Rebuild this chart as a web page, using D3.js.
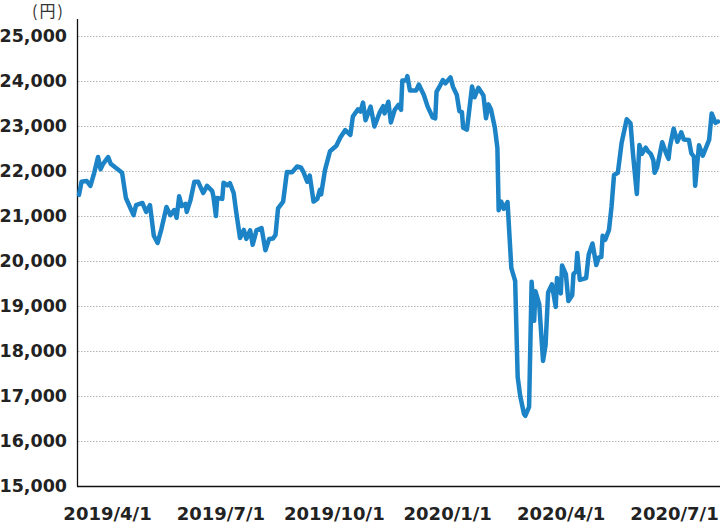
<!DOCTYPE html>
<html><head><meta charset="utf-8">
<script src="https://cdn.jsdelivr.net/npm/d3@7/dist/d3.min.js"></script>
<style>
html,body{margin:0;padding:0;background:#fff;}
svg{display:block;}
</style>
</head><body>
<svg id="chart" width="720" height="524"></svg>
<script>
const dates = ["2019-04-01","2019-04-03","2019-04-07","2019-04-10","2019-04-13","2019-04-16","2019-04-18","2019-04-20","2019-04-24","2019-04-26","2019-04-30",
"2019-05-05","2019-05-08","2019-05-14","2019-05-16","2019-05-21","2019-05-24","2019-05-27","2019-05-30",
"2019-06-02","2019-06-05","2019-06-09","2019-06-12","2019-06-15","2019-06-17","2019-06-19","2019-06-21","2019-06-24","2019-06-25","2019-06-28",
"2019-07-01","2019-07-04","2019-07-08","2019-07-11","2019-07-15","2019-07-16","2019-07-18","2019-07-19","2019-07-23","2019-07-24","2019-07-27","2019-07-29",
"2019-08-01","2019-08-03","2019-08-06","2019-08-09","2019-08-11","2019-08-14","2019-08-16","2019-08-19","2019-08-23","2019-08-26","2019-08-29",
"2019-09-01","2019-09-03","2019-09-05","2019-09-09","2019-09-12","2019-09-16","2019-09-20","2019-09-23","2019-09-25","2019-09-28","2019-09-30",
"2019-10-03","2019-10-06","2019-10-08","2019-10-09","2019-10-12","2019-10-16","2019-10-21","2019-10-24","2019-10-28",
"2019-11-01","2019-11-03","2019-11-07","2019-11-09","2019-11-11","2019-11-13","2019-11-17","2019-11-20","2019-11-24","2019-11-27","2019-11-28",
"2019-12-01","2019-12-03","2019-12-06","2019-12-09","2019-12-11","2019-12-12","2019-12-15","2019-12-16","2019-12-18","2019-12-23","2019-12-25","2019-12-29",
"2020-01-01","2020-01-05","2020-01-07","2020-01-08","2020-01-11","2020-01-13","2020-01-15","2020-01-19","2020-01-21","2020-01-24","2020-01-26","2020-01-28","2020-01-29",
"2020-02-01","2020-02-05","2020-02-07","2020-02-10","2020-02-14","2020-02-16","2020-02-18","2020-02-20","2020-02-23","2020-02-25","2020-02-26","2020-02-28",
"2020-03-01","2020-03-04","2020-03-07","2020-03-10","2020-03-12","2020-03-14","2020-03-17","2020-03-18","2020-03-21","2020-03-23","2020-03-25","2020-03-26","2020-03-29",
"2020-04-01","2020-04-03","2020-04-05","2020-04-08","2020-04-11","2020-04-12","2020-04-15","2020-04-16","2020-04-19","2020-04-21","2020-04-24","2020-04-25","2020-04-27","2020-04-28","2020-04-30",
"2020-05-05","2020-05-07","2020-05-10","2020-05-13","2020-05-15","2020-05-17","2020-05-18","2020-05-20","2020-05-23","2020-05-25","2020-05-27","2020-05-30",
"2020-06-02","2020-06-06","2020-06-09","2020-06-11","2020-06-14","2020-06-16","2020-06-18","2020-06-21","2020-06-23","2020-06-25","2020-06-27","2020-06-28","2020-06-30",
"2020-07-04","2020-07-07","2020-07-09","2020-07-10","2020-07-13","2020-07-16","2020-07-19","2020-07-21","2020-07-25","2020-07-27","2020-07-29","2020-07-30",
"2020-08-02","2020-08-05","2020-08-10","2020-08-12","2020-08-15","2020-08-17"];

const prices = [21470,21760,21780,21670,21960,22310,22040,22160,22310,22160,22070,
21960,21400,21020,21240,21290,21090,21240,20560,
20400,20710,21200,21020,21130,20960,21440,21220,21270,21090,21360,
21760,21760,21510,21670,21560,21440,21000,21400,21380,21740,21680,21730,
21510,21090,20510,20690,20490,20680,20360,20680,20730,20240,20490,
20500,20580,21170,21320,21980,21970,22100,22080,21980,21760,21900,
21320,21380,21580,21480,22020,22440,22560,22740,22910,
22800,23210,23370,23320,23520,23130,23430,22990,23290,23440,23280,
23540,23080,23360,23470,23360,24010,24010,24110,23790,23790,23920,23690,
23430,23190,23170,23760,23910,24020,23950,24080,23870,23690,23330,23310,22960,
22920,23880,23640,23850,23680,23170,23480,23360,22960,22510,21130,21320,
21160,21310,19840,19560,17420,17000,16600,16560,16760,19540,18670,19330,19040,
17780,18130,19300,19480,18980,19620,19280,19900,19710,19110,19240,19710,19770,20180,19580,
19620,20140,20390,19910,20080,20090,20560,20470,20690,21200,21910,21960,
22630,23150,23060,22360,21490,22580,22380,22520,22430,22380,22240,21960,22080,
22640,22400,22270,22530,22940,22650,22860,22700,22690,22390,22320,21670,
22570,22340,22690,23280,23070,23100];

const yTicks = [15000,16000,17000,18000,19000,20000,21000,22000,23000,24000,25000];
const xLabels = ["2019/4/1","2019/7/1","2019/10/1","2020/1/1","2020/4/1","2020/7/1"];
const unitLabel = "(円)";

(function(){
const parse = d3.utcParse("%Y-%m-%d");
const data = dates.map((d,i)=>({date:parse(d), value:prices[i]}));

const svg = d3.select("#chart");
const plotLeft = 78, plotRight = 720, plotTop = 36, plotBottom = 486;

const x = d3.scaleUtc()
  .domain([parse("2019-04-01"), parse("2020-08-17")])
  .range([79, 718]);
const y = d3.scaleLinear().domain([15000,25000]).range([plotBottom, plotTop]);
const xl = d3.scalePoint().domain(xLabels).range([107, 674]);

const labelFont = "'DejaVu Sans', sans-serif";

// gridlines
svg.append("g").selectAll("line")
  .data(yTicks.filter(t=>t>15000))
  .join("line")
  .attr("x1", plotLeft).attr("x2", plotRight)
  .attr("y1", d=>y(d)+0.5).attr("y2", d=>y(d)+0.5)
  .attr("stroke", "#b4b4b4").attr("stroke-width", 1)
  .attr("stroke-dasharray", "1.5,1.5");

// y axis labels
const yAxis = svg.append("g")
  .attr("transform", `translate(${plotLeft},0)`)
  .call(d3.axisLeft(y).tickValues(yTicks).tickSize(0).tickPadding(11).tickFormat(d3.format(",")));
yAxis.select(".domain").remove();
yAxis.selectAll("text")
  .attr("font-family", labelFont).attr("font-weight", "bold")
  .attr("font-size", 17.5).attr("fill", "#222");

// axis lines
svg.append("line").attr("x1", plotLeft-0.5).attr("x2", plotLeft-0.5).attr("y1", 19).attr("y2", plotBottom+0.5)
  .attr("stroke", "#111").attr("stroke-width", 1.3);
svg.append("line").attr("x1", plotLeft-1).attr("x2", plotRight).attr("y1", plotBottom+0.5).attr("y2", plotBottom+0.5)
  .attr("stroke", "#111").attr("stroke-width", 1.3);

// x labels
const xAxis = svg.append("g")
  .attr("transform", `translate(0,${plotBottom})`)
  .call(d3.axisBottom(xl).tickSize(0).tickPadding(21));
xAxis.select(".domain").remove();
xAxis.selectAll("text")
  .attr("font-family", labelFont).attr("font-weight", "bold")
  .attr("font-size", 18).attr("fill", "#222");

// unit label
svg.append("text").text(unitLabel)
  .attr("x", 32).attr("y", 17)
  .attr("font-family", "'Noto Sans CJK JP', sans-serif")
  .attr("font-size", 16).attr("letter-spacing", "2").attr("fill", "#333");

// line
const line = d3.line().x(d=>x(d.date)).y(d=>y(d.value));
svg.append("path").datum(data)
  .attr("d", line)
  .attr("fill", "none")
  .attr("stroke", "#1b83c6")
  .attr("stroke-width", 4.5)
  .attr("stroke-linejoin", "round")
  .attr("stroke-linecap", "round");
})();
</script>
</body></html>
